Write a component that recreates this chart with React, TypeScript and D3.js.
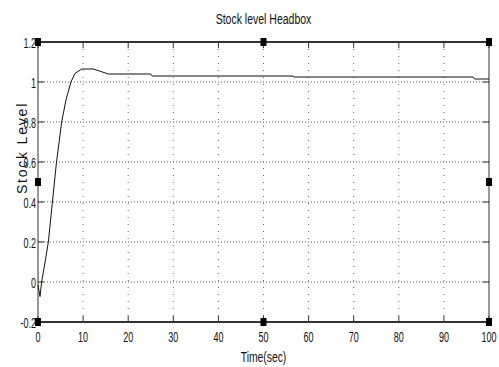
import React, { useEffect } from "react";
import * as d3 from "d3";

// step response
const timeSec = [0, 0.45, 0.8, 1.5, 2.3, 3.2, 4.1, 5.25, 6.2, 7.3, 8.2, 9.7, 12.3, 15.6, 25, 25.3, 56.5, 56.8, 96.5, 96.8, 100];
const stockLevel = [-0.015, -0.073, 0, 0.09, 0.2, 0.4, 0.6, 0.8, 0.91, 1.0, 1.043, 1.065, 1.065, 1.04, 1.04, 1.03, 1.03, 1.025, 1.025, 1.015, 1.015];

const xTicks = [0, 10, 20, 30, 40, 50, 60, 70, 80, 90, 100];
const yTicks = [-0.2, 0, 0.2, 0.4, 0.6, 0.8, 1, 1.2];

const W = 499;
const H = 367;
const margin = { top: 42, right: 10, bottom: 45, left: 38 };
const font = "'Liberation Sans', Arial, sans-serif";

// condensed text, the old figure font is narrow and tall
const NarrowText = ({ x, y, size, sx, anchor, children }) => (
  <text
    transform={`translate(${x},${y}) scale(${sx},1)`}
    textAnchor={anchor}
    fontFamily={font}
    fontSize={size}
    fill="#111"
  >
    {children}
  </text>
);

const App = () => {
  useEffect(() => {
    document.body.style.margin = "0";
  }, []);

  const x = d3.scaleLinear().domain([0, 100]).range([margin.left, W - margin.right]);
  const y = d3.scaleLinear().domain([-0.2, 1.2]).range([H - margin.bottom, margin.top]);

  const pts = timeSec.map((t, i) => [t, stockLevel[i]] as [number, number]);
  const line = d3
    .line<[number, number]>()
    .x((d) => x(d[0]))
    .y((d) => y(d[1]));

  const x0 = x(0);
  const x1 = x(100);
  const yTop = y(1.2);
  const yBot = y(-0.2);
  const xMid = (x0 + x1) / 2;
  const yMid = (yTop + yBot) / 2;

  // selection handles round the axes
  const handles = [
    [x0, yTop], [xMid, yTop], [x1, yTop],
    [x0, yMid], [x1, yMid],
    [x0, yBot], [xMid, yBot], [x1, yBot],
  ];

  return (
    <svg width={W} height={H} style={{ display: "block", background: "#fff" }}>
      {/* grid */}
      {xTicks.slice(1, -1).map((t) => (
        <line key={"gx" + t} x1={x(t)} x2={x(t)} y1={yTop} y2={yBot}
          stroke="#666" strokeWidth={1} strokeDasharray="1,6" />
      ))}
      {yTicks.slice(1, -1).map((t) => (
        <line key={"gy" + t} x1={x0} x2={x1} y1={y(t)} y2={y(t)}
          stroke="#555" strokeWidth={1} strokeDasharray="1,2" />
      ))}

      {/* frame */}
      <line x1={x0} x2={x1} y1={yTop} y2={yTop} stroke="#333" strokeWidth={2} />
      <line x1={x0} x2={x1} y1={yBot} y2={yBot} stroke="#333" strokeWidth={2} />
      <line x1={x0} x2={x0} y1={yTop} y2={yBot} stroke="#333" strokeWidth={1} />
      <line x1={x1} x2={x1} y1={yTop} y2={yBot} stroke="#333" strokeWidth={1} />

      {/* ticks */}
      {xTicks.map((t) => (
        <g key={"tx" + t}>
          <line x1={x(t)} x2={x(t)} y1={yTop} y2={yTop + 6} stroke="#333" />
          <line x1={x(t)} x2={x(t)} y1={yBot} y2={yBot - 6} stroke="#333" />
          <NarrowText x={x(t)} y={yBot + 20} size={15} sx={0.6} anchor="middle">
            {t}
          </NarrowText>
        </g>
      ))}
      {yTicks.map((t) => (
        <g key={"ty" + t}>
          <line x1={x0} x2={x0 + 6} y1={y(t)} y2={y(t)} stroke="#333" />
          <line x1={x1} x2={x1 - 6} y1={y(t)} y2={y(t)} stroke="#333" />
          <NarrowText x={x0 - 2} y={y(t) + 5.5} size={15} sx={0.6} anchor="end">
            {t}
          </NarrowText>
        </g>
      ))}

      {/* response */}
      <path d={line(pts) ?? ""} fill="none" stroke="#111" strokeWidth={1} />

      {handles.map(([hx, hy], i) => (
        <rect key={"h" + i} x={hx - 3} y={hy - 4} width={6} height={8} fill="#000" />
      ))}

      <NarrowText x={xMid} y={24} size={14} sx={0.75} anchor="middle">
        Stock level Headbox
      </NarrowText>
      <NarrowText x={xMid} y={362} size={14} sx={0.74} anchor="middle">
        Time(sec)
      </NarrowText>
      <text transform={`translate(27,${148}) rotate(-90)`} textAnchor="middle"
        fontFamily={font} fontSize={14} letterSpacing={1.8} fill="#111">
        Stock Level
      </text>
    </svg>
  );
};

export default App;
